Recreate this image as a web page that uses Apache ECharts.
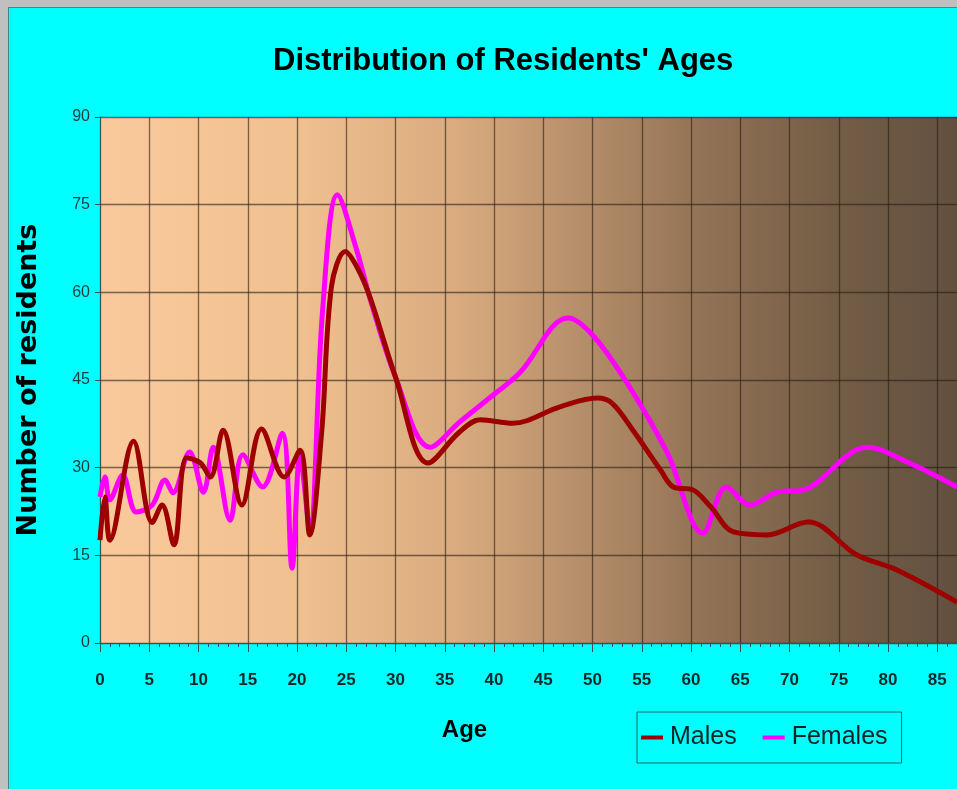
<!DOCTYPE html>
<html>
<head>
<meta charset="utf-8">
<script src="https://cdn.jsdelivr.net/npm/echarts@6/dist/echarts.min.js"></script>
<style>
html,body{margin:0;padding:0;background:#00ffff;}
#chart{width:957px;height:789px;}
</style>
</head>
<body>
<div id="chart"></div>
<script>
// ---- data ----
const titleText = "Distribution of Residents' Ages";
const xAxisName = "Age";
const yAxisName = "Number of residents";
const seriesNames = ["Males", "Females"];

const maleAges = [0, 0.5, 1, 3.4, 5.3, 6.3, 7.5, 8.8, 10.2, 11.2, 12.5, 14.4, 16.4, 18.7, 20.3, 21.3, 22.5, 23.5, 24.9, 26.1, 27.4, 30, 33.3, 36.5, 38.6, 41.9, 46.7, 50.5, 52, 54.1, 56.9, 58.2, 60.2, 62, 64.3, 67.7, 71.9, 76.8, 80.9, 87];
const maleVals = [17.6, 25, 17.6, 34.5, 20.6, 23.6, 16.8, 31.7, 30.8, 28.4, 36.4, 23.6, 36.6, 28.4, 33, 18.5, 36, 61, 67, 64.3, 59.2, 45.5, 30.8, 36.1, 38.2, 37.6, 40.4, 41.9, 41, 36.4, 29.6, 26.7, 26.2, 23.3, 19, 18.5, 20.7, 15.1, 12.5, 7];

const femaleAges = [0, 0.5, 1, 2.3, 3.7, 5.3, 6.6, 7.4, 9.1, 10.5, 11.5, 13.2, 14.5, 16.5, 18.5, 19.5, 20.3, 21.3, 22.6, 24.1, 26.1, 27.4, 30, 33.5, 36.5, 39.6, 42.6, 47.5, 50, 53.5, 57.6, 61.2, 63.6, 66, 68.7, 71.4, 77.9, 81.9, 87];
const femaleVals = [25, 28.4, 24.5, 28.7, 22.4, 23.6, 27.9, 25.7, 32.7, 25.8, 33.5, 21, 32.2, 26.7, 35.9, 12.8, 32, 19.5, 57, 76.7, 67, 59, 45.5, 33.5, 37.8, 42, 46.2, 55.6, 52.7, 44.5, 32.5, 18.8, 26.7, 23.6, 25.8, 26.2, 33.5, 31, 26.7];

const xMin = 0, xMax = 87, xStep = 5;
const yMin = 0, yMax = 90, yStep = 15;

// ---- build ----
const pair = (xs, ys) => xs.map((x, i) => [x, ys[i]]);
const majorX = [];
for (let v = xMin; v <= xMax; v += xStep) majorX.push(v);
const minorX = [];
for (let v = xMin; v <= xMax; v += 1) minorX.push(v);

const chart = echarts.init(document.getElementById('chart'), null, {renderer: 'canvas'});
const axisCol = '#2c5656';
const gridCol = 'rgba(40,30,20,0.62)';

chart.setOption({
  backgroundColor: '#00ffff',
  animation: false,
  textStyle: {fontFamily: 'Liberation Sans, Arial, sans-serif'},
  title: {
    text: titleText,
    left: 273, top: 46, padding: 0,
    textStyle: {fontSize: 31, fontWeight: 'bold', color: '#000000', fontFamily: 'Liberation Sans'}
  },
  graphic: [
    {type: 'rect', left: 0, top: 0, z: 100, shape: {width: 957, height: 7}, style: {fill: '#c0c0c0'}},
    {type: 'rect', left: 0, top: 0, z: 100, shape: {width: 8, height: 789}, style: {fill: '#c0c0c0'}},
    {type: 'rect', left: 8, top: 7, z: 100, shape: {width: 949, height: 1}, style: {fill: '#3c8c8c'}},
    {type: 'rect', left: 8, top: 7, z: 100, shape: {width: 1, height: 782}, style: {fill: '#3c8c8c'}}
  ],
  legend: {
    data: seriesNames,
    left: 637, top: 712,
    orient: 'horizontal',
    padding: [12, 14, 12, 4],
    itemGap: 26,
    itemWidth: 22, itemHeight: 4,
    icon: 'rect',
    borderColor: '#2a6464', borderWidth: 1,
    backgroundColor: 'transparent',
    textStyle: {fontSize: 25, lineHeight: 27, color: '#0c2424', fontFamily: 'Liberation Sans', padding: [0, 0, 0, 2]}
  },
  grid: {
    left: 100, top: 117, right: 0, bottom: 146,
    show: true, borderWidth: 0,
    backgroundColor: {
      type: 'linear', x: 0, y: 0, x2: 1, y2: 0,
      colorStops: [
        {offset: 0, color: '#fbca9c'},
        {offset: 0.23, color: '#f0c08f'},
        {offset: 0.42, color: '#d8aa7e'},
        {offset: 0.7, color: '#937356'},
        {offset: 0.85, color: '#755e47'},
        {offset: 1, color: '#62503f'}
      ]
    },
    containLabel: false
  },
  xAxis: [{
    type: 'value', min: xMin, max: xMax, interval: xStep,
    name: xAxisName, nameLocation: 'middle', nameGap: 75,
    nameTextStyle: {fontSize: 24, fontWeight: 'bold', color: '#000', fontFamily: 'Liberation Sans', padding: [0, 128, 0, 0]},
    axisLine: {show: true, onZero: false, lineStyle: {color: axisCol, width: 1}},
    axisTick: {show: true, length: 9, inside: false, customValues: majorX, lineStyle: {color: axisCol}},
    axisLabel: {show: true, margin: 29, customValues: majorX, fontSize: 17, fontWeight: 'bold', color: '#0f2a2a', fontFamily: 'Liberation Sans'},
    splitLine: {show: true, customValues: majorX, lineStyle: {color: gridCol, width: 1.3}}
  }, {
    type: 'value', min: xMin, max: xMax, position: 'bottom', gridIndex: 0,
    axisLine: {show: false},
    axisTick: {show: true, length: 4, customValues: minorX, lineStyle: {color: axisCol}},
    axisLabel: {show: false},
    splitLine: {show: false}
  }],
  yAxis: {
    type: 'value', min: yMin, max: yMax, interval: yStep,
    name: yAxisName, nameLocation: 'middle', nameRotate: 90, nameGap: 58,
    nameTextStyle: {fontSize: 27, fontWeight: 'bold', color: '#000', fontFamily: 'DejaVu Sans'},
    axisLine: {show: true, lineStyle: {color: axisCol, width: 1}},
    axisTick: {show: true, length: 5, lineStyle: {color: axisCol}},
    axisLabel: {margin: 10, fontSize: 16, color: '#1f3c3c', fontFamily: 'Liberation Sans'},
    splitLine: {show: true, lineStyle: {color: gridCol, width: 1.3}}
  },
  series: [{
    name: seriesNames[0], type: 'line', xAxisIndex: 0,
    data: pair(maleAges, maleVals),
    smooth: 0.35, symbol: 'none', z: 4,
    lineStyle: {color: '#9e0000', width: 5},
    itemStyle: {color: '#9e0000'}
  }, {
    name: seriesNames[1], type: 'line', xAxisIndex: 0,
    data: pair(femaleAges, femaleVals),
    smooth: 0.35, symbol: 'none', z: 3,
    lineStyle: {color: '#ff00ff', width: 5},
    itemStyle: {color: '#ff00ff'}
  }]
});
</script>
</body>
</html>
